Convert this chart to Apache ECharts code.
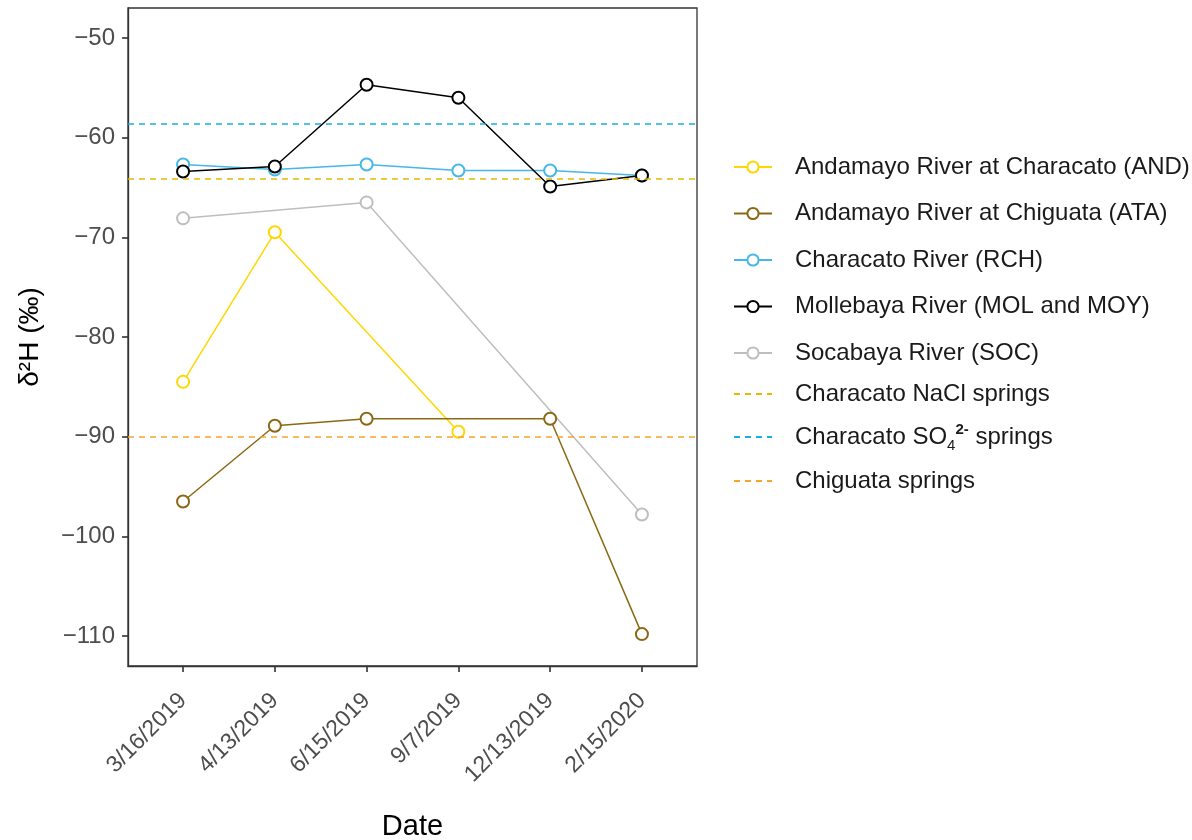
<!DOCTYPE html>
<html>
<head>
<meta charset="utf-8">
<script src="https://cdn.jsdelivr.net/npm/echarts@6/dist/echarts.min.js"></script>
<style>html,body{margin:0;padding:0;background:#fff}#c{width:1192px;height:840px}</style>
</head>
<body>
<div id="c"></div>
<script>
// ---- data ----
const dates = ['3/16/2019', '4/13/2019', '6/15/2019', '9/7/2019', '12/13/2019', '2/15/2020'];
const yTicks = [-110, -100, -90, -80, -70, -60, -50];
const andValues = [-84.5, -69.5, null, -89.5, null, null];
const ataValues = [-96.5, -88.9, -88.2, null, -88.2, -109.8];
const rchValues = [-62.7, -63.2, -62.7, -63.3, -63.3, -63.8];
const molValues = [-63.4, -62.9, -54.7, -56.0, -64.9, -63.8];
const socValues = [-68.1, null, -66.5, null, null, -97.8];
const naclSpring = -64.1;
const so4Spring = -58.6;
const chiguataSpring = -90.0;

const FONT = 'Liberation Sans, Arial, Helvetica, sans-serif';

const riverSeries = [
  { name: 'Andamayo River at Characato (AND)', color: '#FFD700', values: andValues },
  { name: 'Andamayo River at Chiguata (ATA)', color: '#8B6914', values: ataValues },
  { name: 'Characato River (RCH)', color: '#47B6E8', values: rchValues },
  { name: 'Mollebaya River (MOL and MOY)', color: '#000000', values: molValues },
  { name: 'Socabaya River (SOC)', color: '#BEBEBE', values: socValues }
];
const springSeries = [
  { name: 'Characato NaCl springs', color: '#E8B800', value: naclSpring },
  { name: 'Characato SO4 springs', color: '#1AAEE8', value: so4Spring },
  { name: 'Chiguata springs', color: '#F7A52D', value: chiguataSpring }
];

const series = [];
springSeries.forEach(s => {
  series.push({
    name: s.name, type: 'line', data: [], symbol: 'none', z: 1,
    lineStyle: { color: s.color, type: [6, 5], width: 1.5 },
    itemStyle: { color: s.color, opacity: 0 },
    markLine: {
      silent: true, symbol: ['none', 'none'], label: { show: false },
      lineStyle: { color: s.color, type: [6, 5], width: 1.6, opacity: 1 },
      emphasis: { disabled: true },
      data: [{ yAxis: s.value }]
    }
  });
});
riverSeries.forEach(s => {
  series.push({
    name: s.name, type: 'line', z: 3,
    data: s.values.map((v, i) => [i, v]),
    connectNulls: true,
    symbol: 'emptyCircle', symbolSize: 12, showAllSymbol: true,
    lineStyle: { color: s.color, width: 1.5 },
    itemStyle: { color: s.color, borderColor: s.color, borderWidth: 1.2 }
  });
});

const chart = echarts.init(document.getElementById('c'), null, { renderer: 'canvas' });
const legendText = { fontFamily: FONT, fontSize: 24, color: '#1a1a1a', lineHeight: 24, padding: [0, 0, 0, 18] };
chart.setOption({
  animation: false,
  backgroundColor: '#fff',
  grid: {
    left: 128, top: 8, right: 495, bottom: 174, containLabel: false, outerBoundsMode: 'none',
    show: true, borderColor: '#333', borderWidth: 1.3, backgroundColor: 'transparent'
  },
  legend: [
    {
      data: riverSeries.map(s => s.name),
      orient: 'vertical', left: 733, top: 155, padding: 0,
      itemWidth: 38, itemHeight: 14, itemGap: 22.5,
      textStyle: legendText
    },
    {
      data: springSeries.map(s => ({ name: s.name, itemStyle: { opacity: 0 } })),
      orient: 'vertical', left: 733, top: 382, padding: 0,
      itemWidth: 38, itemHeight: 14, itemGap: 16,
      formatter: function (name) {
        if (name === 'Characato SO4 springs') return '{t|Characato SO}{sub|4}{sup|2-}{t| springs}';
        return '{t|' + name + '}';
      },
      textStyle: Object.assign({}, legendText, {
        rich: {
          t: { fontFamily: FONT, fontSize: 24, color: '#1a1a1a', lineHeight: 24 },
          sub: { fontFamily: FONT, fontSize: 15, color: '#1a1a1a', lineHeight: 24, verticalAlign: 'bottom', padding: [0, 0, -4, 0] },
          sup: { fontFamily: FONT, fontSize: 15, fontWeight: 'bold', color: '#1a1a1a', lineHeight: 24, verticalAlign: 'top', padding: [-3, 0, 0, 0] }
        }
      })
    }
  ],
  xAxis: {
    type: 'value', min: -0.6, max: 5.6,
    name: 'Date', nameLocation: 'middle', nameGap: 146,
    nameTextStyle: { fontFamily: FONT, fontSize: 29, color: '#000' },
    axisLine: { show: true, onZero: false, lineStyle: { color: '#333', width: 1.3 } },
    axisTick: { show: true, length: 6, lineStyle: { color: '#333', width: 1.6 }, customValues: dates.map((d, i) => i) },
    axisLabel: {
      rotate: 45, margin: 31, fontFamily: FONT, fontSize: 23, color: '#4d4d4d',
      customValues: dates.map((d, i) => i),
      formatter: v => dates[Math.round(v)] || ''
    },
    splitLine: { show: false }
  },
  yAxis: {
    type: 'value', min: -113, max: -47,
    name: 'δ²H (‰)', nameLocation: 'middle', nameGap: 84, nameRotate: 90,
    nameTextStyle: { fontFamily: FONT, fontSize: 28, color: '#000' },
    axisLine: { show: true, onZero: false, lineStyle: { color: '#333', width: 1.3 } },
    axisTick: { show: true, length: 6, lineStyle: { color: '#333', width: 1.6 }, customValues: yTicks },
    axisLabel: {
      margin: 13, fontFamily: FONT, fontSize: 24, color: '#4d4d4d',
      customValues: yTicks,
      formatter: v => String(v).replace('-', '\u2212')
    },
    splitLine: { show: false }
  },
  series: series
});
</script>
</body>
</html>
